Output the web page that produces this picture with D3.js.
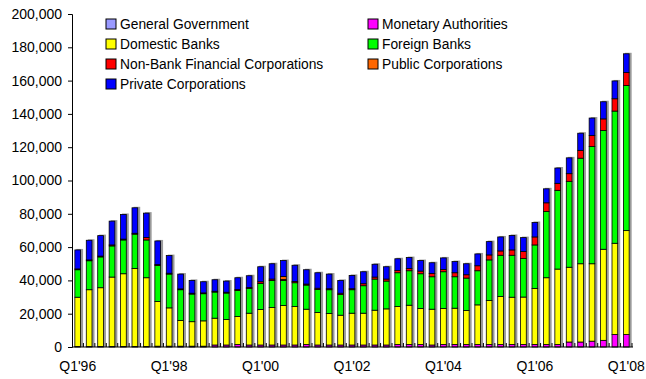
<!DOCTYPE html>
<html>
<head>
<meta charset="utf-8">
<script src="https://cdn.jsdelivr.net/npm/d3@7"></script>
<style>
  html, body { margin: 0; padding: 0; background: #fff; }
  svg { display: block; font-family: "Liberation Sans", Arial, sans-serif; }
</style>
</head>
<body>
<svg id="chart" width="646" height="379"></svg>
<script>
const quarters = [
  "Q1'96","Q2'96","Q3'96","Q4'96","Q1'97","Q2'97","Q3'97","Q4'97",
  "Q1'98","Q2'98","Q3'98","Q4'98","Q1'99","Q2'99","Q3'99","Q4'99",
  "Q1'00","Q2'00","Q3'00","Q4'00","Q1'01","Q2'01","Q3'01","Q4'01",
  "Q1'02","Q2'02","Q3'02","Q4'02","Q1'03","Q2'03","Q3'03","Q4'03",
  "Q1'04","Q2'04","Q3'04","Q4'04","Q1'05","Q2'05","Q3'05","Q4'05",
  "Q1'06","Q2'06","Q3'06","Q4'06","Q1'07","Q2'07","Q3'07","Q4'07",
  "Q1'08"
]
const xTickLabels = ["Q1'96","Q1'98","Q1'00","Q1'02","Q1'04","Q1'06","Q1'08"]
const yTicks = [0, 20000, 40000, 60000, 80000, 100000, 120000, 140000, 160000, 180000, 200000]

const generalGovernment = new Array(49).fill(0)
const monetaryAuthorities = [
  300,300,300,300,300,300,300,500,500,500,500,500,1200,1200,1500,1200,
  1200,1200,1200,1200,1500,1200,1200,1200,1200,1200,1200,1200,1500,1500,1500,1200,
  1500,1500,1500,1500,1500,1500,1500,1500,1500,1500,1500,3000,3000,3500,4000,7500,
  7500
]
const domesticBanks = [
  29600,34100,35300,41700,43700,46900,41300,26800,23000,15400,14700,15200,16100,15300,16800,19100,
  21300,22500,23700,23100,21200,19500,18900,17900,19100,19100,20900,21700,22800,23600,21600,21500,
  21600,21800,20400,23800,26400,28800,28400,28500,33700,40100,45300,44900,47000,46500,54700,54800,
  62400
]
const foreignBanks = [
  16500,17400,18500,18700,20300,20600,22700,21700,20300,18500,16600,16300,15700,15900,15700,14900,
  15700,16300,15100,14300,14500,13900,14300,12400,14100,16500,18700,16700,20300,20700,20900,19500,
  22100,18900,19500,20500,24400,24800,25200,23100,26100,39800,47300,51600,63400,70400,71300,79400,
  87100
]
const nonBankFinancial = [
  500,500,500,600,500,500,1500,500,500,500,500,500,500,500,600,600,
  1000,800,600,800,600,700,600,800,600,1200,1200,1200,1400,1400,1600,2000,
  1400,2400,2000,3000,3000,2600,3200,4200,4800,5200,4200,4600,4700,6600,7000,7400,
  7800
]
const publicCorporations = [
  0,0,0,0,0,0,0,0,0,0,0,0,0,0,0,0,
  0,0,1800,0,0,0,0,0,0,0,0,0,0,0,0,0,
  0,0,0,0,0,0,0,0,0,0,0,0,0,0,0,0,
  0
]
const privateCorporations = [
  11400,11800,12300,14300,14800,15300,14600,14200,10600,8900,7700,6700,6900,6700,7000,7000,
  9000,9200,9500,9700,8600,9300,8800,7700,8000,7200,7700,7400,7000,6500,6300,6400,
  6900,6700,6600,7100,8000,8400,8700,8400,8700,8400,9200,9500,10300,10500,10300,10700,
  11300
]

const series = [
  { key: 'gg', name: 'General Government', color: '#9999ff', values: generalGovernment },
  { key: 'ma', name: 'Monetary Authorities', color: '#ff00ff', values: monetaryAuthorities },
  { key: 'db', name: 'Domestic Banks', color: '#ffff00', values: domesticBanks },
  { key: 'fb', name: 'Foreign Banks', color: '#00ff00', values: foreignBanks },
  { key: 'nb', name: 'Non-Bank Financial Corporations', color: '#ff0000', values: nonBankFinancial },
  { key: 'pc', name: 'Public Corporations', color: '#ff6600', values: publicCorporations },
  { key: 'pr', name: 'Private Corporations', color: '#0000ff', values: privateCorporations }
]
// legend is laid out row by row in two columns
const legendOrder = ['gg', 'ma', 'db', 'fb', 'nb', 'pc', 'pr']

const rows = quarters.map((q, i) => {
  const r = { q }
  series.forEach(s => { r[s.key] = s.values[i] })
  return r
})
const stacked = d3.stack().keys(series.map(s => s.key))(rows)

const svg = d3.select('#chart')
const x = d3.scaleBand().domain(quarters).range([72, 632]).paddingInner(0.5).paddingOuter(0.25)
const y = d3.scaleLinear().domain([0, 200000]).range([347, 14])

// shadows behind each full bar
const totals = rows.map((r, i) => d3.sum(series, s => s.values[i]))
svg.append('g').selectAll('rect').data(quarters).join('rect')
    .attr('x', d => x(d) + 1.5)
    .attr('y', (d, i) => y(totals[i]) - 1)
    .attr('width', x.bandwidth() + 1)
    .attr('height', (d, i) => y(0) - y(totals[i]) + 1)
    .attr('fill', '#9a9a9a')

const colorOf = {}
series.forEach(s => { colorOf[s.key] = s.color })

svg.append('g').selectAll('g').data(stacked).join('g')
    .attr('fill', d => colorOf[d.key])
  .selectAll('rect').data(d => d.filter(p => p[1] - p[0] > 0)).join('rect')
    .attr('x', d => x(d.data.q))
    .attr('y', d => y(d[1]))
    .attr('width', x.bandwidth())
    .attr('height', d => y(d[0]) - y(d[1]))
    .attr('stroke', '#000')
    .attr('stroke-width', 0.8)

// y axis
const yAxis = svg.append('g')
    .attr('transform', 'translate(72,0)')
    .call(d3.axisLeft(y).tickValues(yTicks).tickFormat(d3.format(',')).tickSize(4).tickPadding(6))
yAxis.select('.domain').attr('stroke', '#000')
yAxis.selectAll('text').attr('font-size', 14).attr('fill', '#000')
  .attr('font-family', '"Liberation Sans", Arial, sans-serif')

// x axis line and inside ticks between categories
const xAxis = svg.append('g')
xAxis.append('line').attr('x1', 72).attr('x2', 633).attr('y1', 347).attr('y2', 347)
    .attr('stroke', '#000').attr('stroke-width', 1.2)
const step = x.step()
xAxis.selectAll('line.tick').data(quarters).join('line')
    .attr('class', 'tick')
    .attr('x1', (d, i) => x(d) + x.bandwidth() + (step - x.bandwidth()) / 2)
    .attr('x2', (d, i) => x(d) + x.bandwidth() + (step - x.bandwidth()) / 2)
    .attr('y1', 347).attr('y2', 343)
    .attr('stroke', '#000')
xAxis.selectAll('text').data(xTickLabels).join('text')
    .attr('x', d => x(d) + x.bandwidth() / 2)
    .attr('y', 371)
    .attr('text-anchor', 'middle')
    .attr('font-size', 14)
    .text(d => d)

// legend
const legend = svg.append('g')
legendOrder.forEach((k, i) => {
  const s = series.find(t => t.key === k)
  const col = i % 2, row = Math.floor(i / 2)
  const lx = col === 0 ? 106 : 368
  const ly = 24 + row * 20
  legend.append('rect').attr('x', lx).attr('y', ly - 5).attr('width', 10).attr('height', 10)
      .attr('fill', s.color).attr('stroke', '#000').attr('stroke-width', 1)
  legend.append('text').attr('x', lx + 14).attr('y', ly + 5)
      .attr('font-size', 13.8).text(s.name)
})
</script>
</body>
</html>
